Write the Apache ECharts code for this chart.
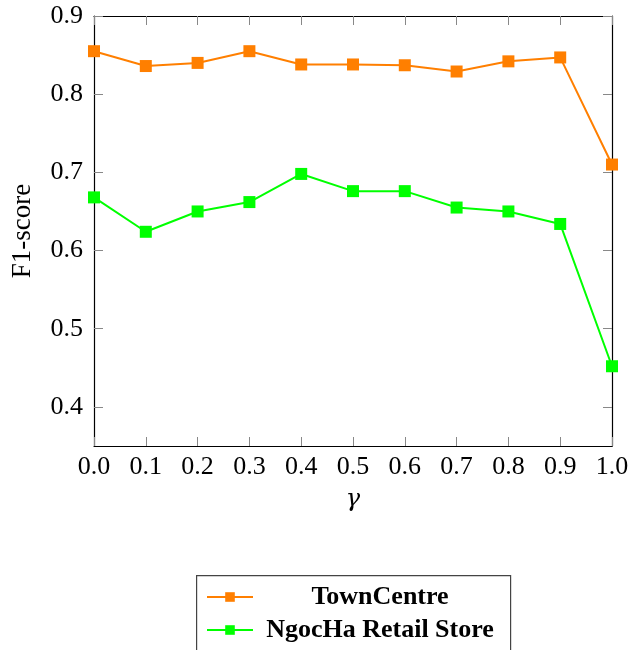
<!DOCTYPE html>
<html><head><meta charset="utf-8">
<script src="https://cdn.jsdelivr.net/npm/echarts@6/dist/echarts.min.js"></script>
<style>html,body{margin:0;padding:0;background:#fff}#c{width:644px;height:650px}</style>
</head><body><div id="c"></div>
<script>
const gammas = [0.0, 0.1, 0.2, 0.3, 0.4, 0.5, 0.6, 0.7, 0.8, 0.9, 1.0];
const townCentre = [0.855, 0.836, 0.840, 0.855, 0.838, 0.838, 0.837, 0.829, 0.842, 0.847, 0.710];
const ngocHa = [0.668, 0.624, 0.650, 0.662, 0.698, 0.676, 0.676, 0.655, 0.650, 0.634, 0.452];
const yTicks = [0.4, 0.5, 0.6, 0.7, 0.8, 0.9];
const seriesNames = ['TownCentre', 'NgocHa Retail Store'];

const font = '"Liberation Serif", "DejaVu Serif", serif';
const chart = echarts.init(document.getElementById('c'));
const tickStyle = {show: true, inside: true, length: 9, lineStyle: {color: '#888', width: 1}};
const axisLineStyle = {show: true, onZero: false, lineStyle: {color: '#000', width: 1.2}};
const baseX = {type: 'value', min: 0, max: 1, interval: 0.1, splitLine: {show: false}, axisLine: axisLineStyle, axisTick: tickStyle};
const baseY = {type: 'value', min: 0.35, max: 0.9, splitLine: {show: false}, axisLine: axisLineStyle,
  axisTick: Object.assign({}, tickStyle, {customValues: yTicks})};
const legendBase = {
  orient: 'vertical', left: 206, padding: 0, itemWidth: 46, itemHeight: 12,
  formatter: n => '{t|' + n + '}',
  textStyle: {rich: {t: {fontFamily: font, fontSize: 26, fontWeight: 'bold', color: '#000', width: 244, align: 'center', lineHeight: 26}}}
};
chart.setOption({
  animation: false,
  grid: {left: 94, top: 16, width: 518, height: 430, containLabel: false},
  xAxis: [
    Object.assign({}, baseX, {position: 'bottom', name: 'γ', nameLocation: 'middle', nameGap: 42,
      nameTextStyle: {fontFamily: '"DejaVu Serif", serif', fontSize: 24, fontStyle: 'italic', color: '#000'},
      axisLabel: {margin: 8, fontFamily: font, fontSize: 26, color: '#000', formatter: v => v.toFixed(1)}}),
    Object.assign({}, baseX, {position: 'top', axisLabel: {show: false}})
  ],
  yAxis: [
    Object.assign({}, baseY, {position: 'left', name: 'F1-score', nameLocation: 'middle', nameGap: 58,
      nameTextStyle: {fontFamily: font, fontSize: 27, color: '#000'},
      axisLabel: {margin: 11, fontFamily: font, fontSize: 26, color: '#000', customValues: yTicks, formatter: v => v.toFixed(1)}}),
    Object.assign({}, baseY, {position: 'right', axisLabel: {show: false}})
  ],
  graphic: [{type: 'rect', left: 196, top: 575, shape: {width: 314, height: 100},
    style: {fill: '#fff', stroke: '#444', lineWidth: 1.2}, z: 0}],
  legend: [
    Object.assign({}, legendBase, {top: 584, data: [seriesNames[0]]}),
    Object.assign({}, legendBase, {top: 617, data: [seriesNames[1]]})
  ],
  series: [
    {name: seriesNames[0], type: 'line', data: gammas.map((g, i) => [g, townCentre[i]]),
      symbol: 'rect', symbolSize: 12, lineStyle: {color: '#ff7f00', width: 2}, itemStyle: {color: '#ff7f00'}},
    {name: seriesNames[1], type: 'line', data: gammas.map((g, i) => [g, ngocHa[i]]),
      symbol: 'rect', symbolSize: 12, lineStyle: {color: '#00ff00', width: 2}, itemStyle: {color: '#00ff00'}}
  ]
});
</script></body></html>
